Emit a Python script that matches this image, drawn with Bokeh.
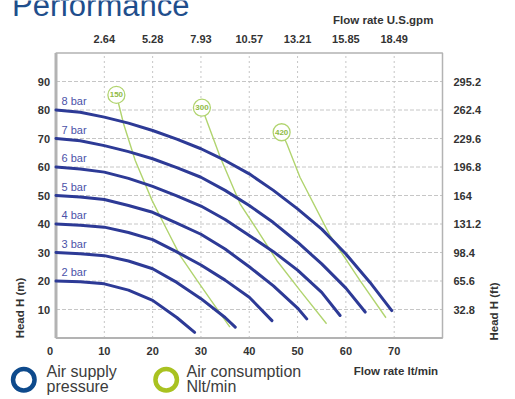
import math
from bokeh.plotting import figure
from bokeh.models import Label, Range1d, ColumnDataSource
from bokeh.core.properties import value
from bokeh.embed import file_html
from bokeh.resources import INLINE

# ---------------- data ----------------
flow_ticks = [0, 10, 20, 30, 40, 50, 60, 70]
gpm_ticks = [10, 20, 30, 40, 50, 60, 70]
gpm_labels = ["2.64", "5.28", "7.93", "10.57", "13.21", "15.85", "18.49"]
head_ticks = [10, 20, 30, 40, 50, 60, 70, 80, 90]
ft_labels = ["32.8", "65.6", "98.4", "131.2", "164", "196.8", "229.6", "262.4", "295.2"]
FLOW_MAX = 80
HEAD_MAX = 100

pressure_labels = ["8 bar", "7 bar", "6 bar", "5 bar", "4 bar", "3 bar", "2 bar"]
pressure_start = [80, 70, 60, 50, 40, 30, 20]

q_8bar = [0, 5, 10, 15, 20, 25, 30, 35, 40, 45, 50, 55, 60, 65, 69.5]
h_8bar = [80, 79.2, 77.5, 75.4, 72.8, 69.8, 66.4, 62.3, 57.6, 51.8, 45.3, 38.2, 29.5, 19.5, 9.6]
q_7bar = [0, 5, 10, 15, 20, 25, 30, 35, 40, 45, 50, 55, 60, 64]
h_7bar = [70, 69.2, 67.5, 65.4, 62.9, 59.8, 56.4, 51.8, 46.5, 40.5, 33.6, 26, 17.5, 9.1]
q_6bar = [0, 5, 10, 15, 20, 25, 30, 35, 40, 45, 50, 55, 58.8]
h_6bar = [60, 59.3, 58.2, 56, 53.2, 49.9, 46.3, 41.6, 36, 30.3, 23.8, 16, 7.9]
q_5bar = [0, 5, 10, 15, 20, 25, 30, 35, 40, 45, 50, 51.9]
h_5bar = [50, 49.5, 48.6, 46.5, 44.1, 40.3, 36.4, 31.2, 25, 18.3, 10.5, 6.7]
q_4bar = [0, 5, 10, 15, 20, 25, 30, 35, 40, 44.7]
h_4bar = [40, 39.6, 38.9, 37, 34.5, 30.2, 25.6, 20.3, 14.3, 6.1]
q_3bar = [0, 5, 10, 15, 20, 25, 30, 35, 37.1]
h_3bar = [30, 29.6, 28.9, 27, 24.3, 19.5, 13.8, 7.2, 3.8]
q_2bar = [0, 5, 10, 15, 20, 25, 28.7]
h_2bar = [20, 19.7, 19, 16.8, 13.2, 7.2, 2.0]

air_labels = ["150", "300", "420"]
air_circle_q = [12.5, 30.2, 46.7]
air_circle_h = [85.3, 80.8, 72.2]
q_150 = [12.5, 14, 16.4, 19.9, 22.8, 25.7, 29.2, 32.6, 36]
h_150 = [85.3, 75.1, 62.3, 48.2, 38.5, 28.9, 20.2, 12, 3.8]
q_300 = [30.2, 34, 38.1, 42, 45.7, 50.5, 56]
h_300 = [80.8, 63.4, 47.1, 37, 27.2, 16.7, 5]
q_420 = [46.7, 47.8, 50.5, 56.7, 58.8, 62.9, 68.3]
h_420 = [72.2, 68.1, 56.4, 36, 30.7, 20.2, 7.1]

# ---------------- layout / styles ----------------
W, H = 515, 399
X0, X1, YT, YB = 55.5, 442.0, 52.5, 337.5   # plot area in page pixels
SX = (X1 - X0) / FLOW_MAX
SY = (YB - YT) / HEAD_MAX


def dx(px):
    return (px - X0) / SX


def dy(py):
    return (YB - py) / SY


BLUE = "#2d3a96"
BAR_TXT = "#4b52a8"
GREEN = "#b1d46f"
GREEN_TXT = "#8fbb45"
GRAY_TXT = "#333333"
AXIS_GRAY = "#b3b3b3"
GRID_GRAY = "#c6c6c6"
FONT = "Liberation Sans"

p = figure(width=W, height=H, x_range=Range1d(dx(0), dx(W)), y_range=Range1d(dy(H), dy(0)),
           output_backend="svg", toolbar_location=None, x_axis_type=None, y_axis_type=None,
           min_border=0, min_border_left=0, min_border_right=0, min_border_top=0,
           min_border_bottom=0)
p.outline_line_color = None
p.background_fill_color = "white"
p.border_fill_color = "white"

# grid lines
p.segment(x0=gpm_ticks, y0=[0] * len(gpm_ticks), x1=gpm_ticks, y1=[HEAD_MAX] * len(gpm_ticks),
          line_color=GRID_GRAY, line_dash="2 3", line_width=1)
p.segment(x0=[0] * len(head_ticks), y0=head_ticks, x1=[FLOW_MAX] * len(head_ticks), y1=head_ticks,
          line_color=GRID_GRAY, line_dash="4 2", line_width=1)

# plot frame / axis lines
p.quad(left=[0], right=[FLOW_MAX], bottom=[0], top=[HEAD_MAX], fill_color=None,
       line_color=AXIS_GRAY, line_width=1.5)
p.segment(x0=[0], y0=[0], x1=[0], y1=[HEAD_MAX], line_color=AXIS_GRAY, line_width=3)
p.segment(x0=[0], y0=[0], x1=[FLOW_MAX], y1=[0], line_color=AXIS_GRAY, line_width=2)

tick_kw = dict(text_font=value(FONT), text_font_style="bold", text_font_size="11px",
               text_color=GRAY_TXT)
# left axis (m)
p.text(x=[0] * len(head_ticks), y=head_ticks, text=[str(t) for t in head_ticks],
       x_offset=-6, text_align="right", text_baseline="middle", **tick_kw)
# right axis (ft)
p.text(x=[FLOW_MAX] * len(head_ticks), y=head_ticks, text=ft_labels,
       x_offset=11, text_align="left", text_baseline="middle", **tick_kw)
# bottom axis (lt/min)
p.text(x=flow_ticks[1:], y=[0] * (len(flow_ticks) - 1), text=[str(t) for t in flow_ticks[1:]],
       y_offset=12.5, text_align="center", text_baseline="middle", **tick_kw)
p.text(x=flow_ticks[:1], y=[0], text=[str(flow_ticks[0])], x_offset=-6, y_offset=12.5,
       text_align="center", text_baseline="middle", **tick_kw)
# top axis (U.S. gpm)
p.text(x=gpm_ticks, y=[HEAD_MAX] * len(gpm_ticks), text=gpm_labels,
       y_offset=-14, text_align="center", text_baseline="middle", **tick_kw)

# air consumption lines
for qq, hh in [(q_150, h_150), (q_300, h_300), (q_420, h_420)]:
    p.line(qq, hh, line_color=GREEN, line_width=1.4)

# pressure curves
for qq, hh in [(q_8bar, h_8bar), (q_7bar, h_7bar), (q_6bar, h_6bar), (q_5bar, h_5bar),
               (q_4bar, h_4bar), (q_3bar, h_3bar), (q_2bar, h_2bar)]:
    p.line(qq, hh, line_color=BLUE, line_width=3, line_join="round", line_cap="round")

# bar labels
bar_src = ColumnDataSource(dict(x=[0] * len(pressure_labels), y=pressure_start, t=pressure_labels))
p.text(x="x", y="y", text="t", source=bar_src, x_offset=5.5, y_offset=-9,
       text_font=value(FONT), text_font_size="11px", text_color=BAR_TXT,
       text_align="left", text_baseline="middle")

# air consumption circles
air_src = ColumnDataSource(dict(x=air_circle_q, y=air_circle_h, t=air_labels))
p.scatter(x="x", y="y", source=air_src, size=17, marker="circle", fill_color="white",
          line_color=GREEN, line_width=1.3)
p.text(x="x", y="y", text="t", source=air_src, text_font=value(FONT), text_font_size="8px",
       text_font_style="bold", text_color=GREEN_TXT, text_align="center", text_baseline="middle")


# ---------------- texts around the plot (positions in page pixels) ----------------
def lab(text, px, py, size="11.5px", bold=True, color=GRAY_TXT, align="left", base="middle",
        angle=0.0):
    p.add_layout(Label(x=dx(px), y=dy(py), text=text, text_font=FONT, text_font_size=size,
                       text_font_style="bold" if bold else "normal",
                       text_color=color, text_align=align, text_baseline=base, angle=angle))


lab("Performance", 11.5, 4.5, size="31px", bold=False, color="#1f4e8c", base="alphabetic")
lab("Flow rate U.S.gpm", 382.7, 19, align="center")
lab("Flow rate  lt/min", 353.3, 370)
lab("Head H (m)", 19, 307.5, align="center", angle=math.pi / 2)
lab("Head H (ft)", 493, 311, align="center", angle=math.pi / 2)

LEG_TXT = "#3c3c3c"
lab("Air supply", 46, 371, size="16px", bold=False, color=LEG_TXT, base="alphabetic")
lab("pressure", 46, 385.5, size="16px", bold=False, color=LEG_TXT, base="alphabetic")
lab("Air consumption", 186, 371, size="16px", bold=False, color=LEG_TXT, base="alphabetic")
lab("Nlt/min", 186, 385.5, size="16px", bold=False, color=LEG_TXT, base="alphabetic")

# legend rings
p.scatter(x=[dx(23.3), dx(165.7)], y=[dy(379.3), dy(379.3)], size=21.5, marker="circle",
          fill_color=None, line_color=["#0e4a8c", "#a9c221"], line_width=4.5)

open("out.html", "w").write(file_html(p, INLINE))
